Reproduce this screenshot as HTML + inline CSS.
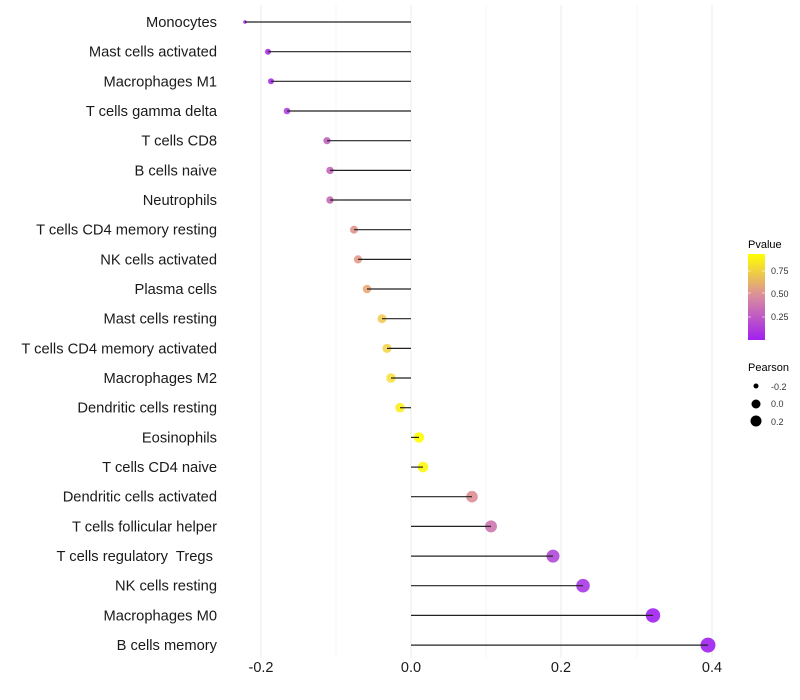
<!DOCTYPE html>
<html><head><meta charset="utf-8"><style>body{margin:0;background:#fff}svg{display:block}text{font-family:"Liberation Sans",sans-serif}</style></head>
<body>
<svg width="800" height="700" xmlns="http://www.w3.org/2000/svg">
<defs><linearGradient id="g" x1="0" y1="1" x2="0" y2="0">
<stop offset="0" stop-color="#a020f0"/><stop offset="0.5" stop-color="#d98aa0"/><stop offset="1" stop-color="#ffff00"/></linearGradient></defs>
<g stroke="#ebebeb" stroke-width="1">
<line x1="261" y1="5" x2="261" y2="658"/><line x1="336" y1="5" x2="336" y2="658" stroke="#f4f4f4"/>
<line x1="411" y1="5" x2="411" y2="658"/><line x1="486" y1="5" x2="486" y2="658" stroke="#f4f4f4"/>
<line x1="561" y1="5" x2="561" y2="658"/><line x1="637" y1="5" x2="637" y2="658" stroke="#f4f4f4"/>
<line x1="712" y1="5" x2="712" y2="658"/>
</g>
<g fill-opacity="0.9">
<circle cx="245" cy="22" r="1.8" fill="#a020f0"/>
<circle cx="268" cy="51.7" r="3" fill="#a830e8"/>
<circle cx="271" cy="81.3" r="3" fill="#a830e8"/>
<circle cx="287" cy="111" r="3.3" fill="#b040e0"/>
<circle cx="327" cy="140.7" r="3.6" fill="#c060c0"/>
<circle cx="330" cy="170.4" r="3.7" fill="#c565b8"/>
<circle cx="330" cy="200" r="3.7" fill="#c868b5"/>
<circle cx="354" cy="229.7" r="4" fill="#e0948c"/>
<circle cx="358" cy="259.4" r="4.1" fill="#e29a88"/>
<circle cx="367" cy="289" r="4.3" fill="#eba878"/>
<circle cx="382" cy="318.7" r="4.5" fill="#f3cc58"/>
<circle cx="387" cy="348.4" r="4.6" fill="#f5d550"/>
<circle cx="391" cy="378" r="4.7" fill="#f7e040"/>
<circle cx="400" cy="407.7" r="4.8" fill="#fbee20"/>
<circle cx="419" cy="437.4" r="5.2" fill="#ffff00"/>
<circle cx="423" cy="467.1" r="5.3" fill="#fdf810"/>
<circle cx="472" cy="496.7" r="5.8" fill="#dd8f95"/>
<circle cx="491" cy="526.4" r="6" fill="#cc75b0"/>
<circle cx="553" cy="556.1" r="6.5" fill="#b048d8"/>
<circle cx="583" cy="585.7" r="6.8" fill="#a838e5"/>
<circle cx="653" cy="615.4" r="7.2" fill="#a020f0"/>
<circle cx="708" cy="645.1" r="7.5" fill="#a020f0"/>
</g>
<g stroke="#222" stroke-width="1.2">
<line x1="411" y1="22" x2="245" y2="22"/>
<line x1="411" y1="51.7" x2="268" y2="51.7"/>
<line x1="411" y1="81.3" x2="271" y2="81.3"/>
<line x1="411" y1="111" x2="287" y2="111"/>
<line x1="411" y1="140.7" x2="327" y2="140.7"/>
<line x1="411" y1="170.4" x2="330" y2="170.4"/>
<line x1="411" y1="200" x2="330" y2="200"/>
<line x1="411" y1="229.7" x2="354" y2="229.7"/>
<line x1="411" y1="259.4" x2="358" y2="259.4"/>
<line x1="411" y1="289" x2="367" y2="289"/>
<line x1="411" y1="318.7" x2="382" y2="318.7"/>
<line x1="411" y1="348.4" x2="387" y2="348.4"/>
<line x1="411" y1="378" x2="391" y2="378"/>
<line x1="411" y1="407.7" x2="400" y2="407.7"/>
<line x1="411" y1="437.4" x2="419" y2="437.4"/>
<line x1="411" y1="467.1" x2="423" y2="467.1"/>
<line x1="411" y1="496.7" x2="472" y2="496.7"/>
<line x1="411" y1="526.4" x2="491" y2="526.4"/>
<line x1="411" y1="556.1" x2="553" y2="556.1"/>
<line x1="411" y1="585.7" x2="583" y2="585.7"/>
<line x1="411" y1="615.4" x2="653" y2="615.4"/>
<line x1="411" y1="645.1" x2="708" y2="645.1"/>
</g>
<g font-size="14.7" fill="#1a1a1a" text-anchor="end">
<text x="217" y="27">Monocytes</text>
<text x="217" y="56.7">Mast cells activated</text>
<text x="217" y="86.3">Macrophages M1</text>
<text x="217" y="116">T cells gamma delta</text>
<text x="217" y="145.7">T cells CD8</text>
<text x="217" y="175.4">B cells naive</text>
<text x="217" y="205">Neutrophils</text>
<text x="217" y="234.7">T cells CD4 memory resting</text>
<text x="217" y="264.4">NK cells activated</text>
<text x="217" y="294">Plasma cells</text>
<text x="217" y="323.7">Mast cells resting</text>
<text x="217" y="353.4">T cells CD4 memory activated</text>
<text x="217" y="383">Macrophages M2</text>
<text x="217" y="412.7">Dendritic cells resting</text>
<text x="217" y="442.4">Eosinophils</text>
<text x="217" y="472.1">T cells CD4 naive</text>
<text x="217" y="501.7">Dendritic cells activated</text>
<text x="217" y="531.4">T cells follicular helper</text>
<text x="217" y="561.1" xml:space="preserve">T cells regulatory  Tregs </text>
<text x="217" y="590.7">NK cells resting</text>
<text x="217" y="620.4">Macrophages M0</text>
<text x="217" y="650.1">B cells memory</text>
</g>
<g font-size="14.5" fill="#1a1a1a" text-anchor="middle">
<text x="261" y="672">-0.2</text><text x="411" y="672">0.0</text><text x="561" y="672">0.2</text><text x="712" y="672">0.4</text></g>
<text x="748" y="248" font-size="11">Pvalue</text>
<rect x="748" y="254" width="17" height="86" fill="url(#g)"/>
<g stroke="#fff" stroke-opacity="0.6"><line x1="748" y1="271" x2="751" y2="271"/><line x1="762" y1="271" x2="765" y2="271"/><line x1="748" y1="293" x2="751" y2="293"/><line x1="762" y1="293" x2="765" y2="293"/><line x1="748" y1="317" x2="751" y2="317"/><line x1="762" y1="317" x2="765" y2="317"/></g>
<g font-size="9" fill="#333"><text x="771" y="274">0.75</text><text x="771" y="297">0.50</text><text x="771" y="320">0.25</text>
<text x="771" y="390">-0.2</text><text x="771" y="407">0.0</text><text x="771" y="425">0.2</text></g>
<text x="748" y="371" font-size="11">Pearson</text>
<circle cx="756" cy="386" r="2.5"/><circle cx="756" cy="404" r="4.5"/><circle cx="756" cy="421" r="5.5"/>
</svg>
</body></html>
